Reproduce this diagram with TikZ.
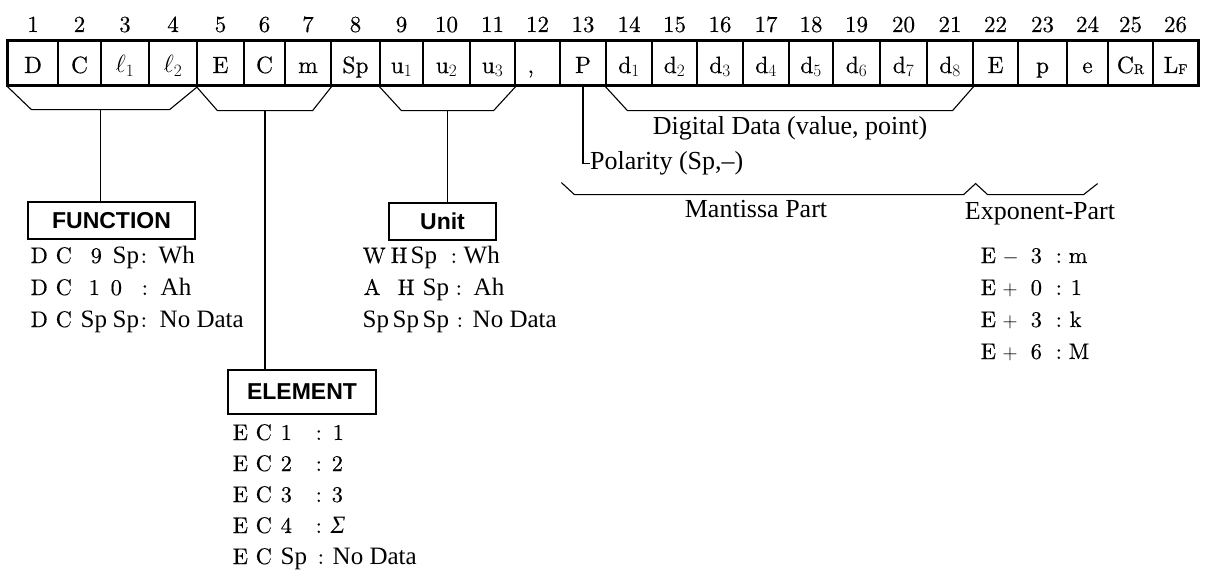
\documentclass[tikz,border=0pt]{standalone}
\usepackage{fontspec}
\setmainfont{lmroman10-regular.otf}[FakeBold=0.35]
\newfontfamily\tm{Liberation Serif}
\newfontfamily\hv{Liberation Sans}
\usetikzlibrary{calc}
\newcommand\pc[2]{\rlap{\hspace*{#1pt}#2}}
\newcommand\lmf{\fontsize{22.5}{26}\selectfont}
\newcommand\tmf{\tm\fontsize{25}{30}\selectfont}
\newcommand\T[1]{{\tmf #1}}
\newcommand\sbc[1]{\raisebox{-1pt}{\fontsize{14}{14}\selectfont #1}}
\begin{document}
\begin{tikzpicture}[x=1pt,y=-1pt,
  cell/.style={draw, line width=1.2pt, inner sep=0pt, minimum height=44pt,
    text height=26pt, text depth=6pt, font=\fontsize{23.5}{28}\selectfont},
  num/.style={inner sep=0pt, anchor=base, font=\fontsize{23}{28}\selectfont},
  brace/.style={line width=1.1pt, line join=miter},
  conn/.style={line width=1.1pt},
  titlebox/.style={draw, line width=1.6pt, inner sep=0pt,
    font=\hv\bfseries\fontsize{23}{28}\selectfont},
  lbl/.style={inner sep=0pt, anchor=base, font=\tm\fontsize{26}{30}\selectfont},
  lst/.style={inner sep=0pt, anchor=base west, font=\lmf},
]
\useasboundingbox (0,0) rectangle (1205,572);
% ---- cells and position numbers
\foreach \l/\r/\t [count=\i] in {
  8/58/D, 58/101/C, 101/149/{$\ell_1$}, 149/197/{$\ell_2$},
  197/244/E, 244/285/C, 285/331/m, 331/380/Sp,
  380/423/{u$_1$}, 423/470/{u$_2$}, 470/515/{u$_3$},
  515/560/{\makebox[20pt][l]{,}}, 560/606/P,
  606/652/{d$_1$}, 652/697/{d$_2$}, 697/743/{d$_3$},
  743/789/{d$_4$}, 789/833/{d$_5$}, 833/880/{d$_6$},
  880/927/{d$_7$}, 927/973/{d$_8$},
  973/1018/E, 1018/1067/p, 1067/1108/e,
  1108/1153/{C\sbc{R}}, 1153/1198/{L\sbc{F}}}{
  \node[cell, minimum width={\r pt-\l pt}] (c\i) at ({(\l+\r)/2},63) {\t};
  \node[num] (n\i) at ({(\l+\r)/2},32) {\i};
}
\draw[line width=2.2pt] (c1.north west) rectangle (c26.south east);
\draw[line width=3pt] (c1.north west) -- (c1.south west);
\draw[line width=2.5pt] (c26.north east) -- (c26.south east);
% ---- braces under the row
\draw[brace] ($(c1.south west)+(0,1)$) -- ++(24,23) coordinate (fL)
  -- ($(c4.south east)+(-28,24)$) coordinate (fR) -- ($(c4.south east)+(0,1)$);
\draw[brace] ($(c5.south west)+(0,1)$) -- ++(21,24) coordinate (eL)
  -- ($(c7.south east)+(-19,25)$) coordinate (eR) -- ($(c7.south east)+(0,1)$);
\draw[brace] ($(c9.south west)+(0,1)$) -- ++(22,24) coordinate (uL)
  -- ($(c11.south east)+(-22,25)$) coordinate (uR) -- ($(c11.south east)+(0,1)$);
\draw[brace] ($(c14.south west)+(0,1)$) -- ++(22,24) coordinate (dL)
  -- ($(c21.south east)+(-21,25)$) coordinate (dR) -- ($(c21.south east)+(0,1)$);
% mantissa / exponent brace
\draw[brace] ($(c13.south west)+(2,97)$) -- ++(13,12)
  -- ($(c21.south east)+(-10,109)$) -- ($(c21.south east)+(2,98)$)
  -- ($(c21.south east)+(14,109)$) -- ($(c24.south east)+(-25,109)$)
  -- ($(c24.south east)+(-11,98)$);
% ---- labels
\node[lbl] (dig) at (790,135) {Digital Data (value, point)};
\node[lbl, anchor=base west] (pol) at (590,170) {Polarity (Sp,–)};
\draw[conn] (c13.south) |- (pol.west);
\node[lbl] (man) at (756,218) {Mantissa Part};
\node[lbl] (expo) at (1040,220) {Exponent-Part};
% ---- title boxes
\node[titlebox, minimum width=167pt, minimum height=37pt] (fun) at (111.5,220.5) {FUNCTION};
\node[titlebox, minimum width=107pt, minimum height=37pt] (unit) at (442.5,221.5) {Unit};
\node[titlebox, minimum width=148pt, minimum height=44pt] (ele) at (302,392) {ELEMENT};
\coordinate (fm) at ($(fL)!0.5!(fR)$);
\coordinate (em) at ($(eL)!0.5!(eR)$);
\coordinate (um) at ($(uL)!0.5!(uR)$);
\draw[conn] (fm) -- (fm |- fun.north);
\draw[conn] (em) -- (em |- ele.north);
\draw[conn] (um) -- (um |- unit.north);
% ---- FUNCTION list
\node[lst] (f1) at (30,263) {\pc{0}{D}\pc{25}{C}\pc{60}{9}\pc{82}{\T{Sp}}\pc{110}{:}\pc{128}{\T{Wh}}};
\node[lst] (f2) at (30,295) {\pc{0}{D}\pc{25}{C}\pc{58}{1}\pc{80}{0}\pc{111}{:}\pc{130}{\T{Ah}}};
\node[lst] (f3) at (30,327) {\pc{0}{D}\pc{25}{C}\pc{50}{\T{Sp}}\pc{82}{\T{Sp}}\pc{110}{:}\pc{129}{\T{No Data}}};
% ---- Unit list
\node[lst] (u1) at (362,263) {\pc{0}{W}\pc{28}{H}\pc{48}{\T{Sp}}\pc{88}{:}\pc{101}{\T{Wh}}};
\node[lst] (u2) at (362,295) {\pc{1}{A}\pc{35}{H}\pc{60}{\T{Sp}}\pc{93}{:}\pc{111}{\T{Ah}}};
\node[lst] (u3) at (362,327) {\pc{0}{\T{Sp}}\pc{30}{\T{Sp}}\pc{60}{\T{Sp}}\pc{94}{:}\pc{110}{\T{No Data}}};
% ---- ELEMENT list
\node[lst] (e1) at (232,440) {\pc{0}{E}\pc{23}{C}\pc{48}{1}\pc{83}{:}\pc{100}{1}};
\node[lst] (e2) at (232,471) {\pc{0}{E}\pc{23}{C}\pc{48}{2}\pc{83}{:}\pc{99}{2}};
\node[lst] (e3) at (232,502) {\pc{0}{E}\pc{23}{C}\pc{48}{3}\pc{83}{:}\pc{99}{3}};
\node[lst] (e4) at (232,533) {\pc{0}{E}\pc{23}{C}\pc{48}{4}\pc{83}{:}\pc{98}{{\tmf\itshape Σ}}};
\node[lst] (e5) at (232,564) {\pc{0}{E}\pc{23}{C}\pc{48}{\T{Sp}}\pc{85}{:}\pc{100}{\T{No Data}}};
% ---- Exponent list
\node[lst] (x1) at (980,263) {\pc{0}{E}\pc{22}{$-$}\pc{50}{3}\pc{75}{:}\pc{88}{m}};
\node[lst] (x2) at (980,295) {\pc{0}{E}\pc{22}{$+$}\pc{50}{0}\pc{75}{:}\pc{90}{1}};
\node[lst] (x3) at (980,327) {\pc{0}{E}\pc{22}{$+$}\pc{50}{3}\pc{75}{:}\pc{89}{k}};
\node[lst] (x4) at (980,359) {\pc{0}{E}\pc{22}{$+$}\pc{50}{6}\pc{75}{:}\pc{88}{M}};
\end{tikzpicture}
\end{document}
